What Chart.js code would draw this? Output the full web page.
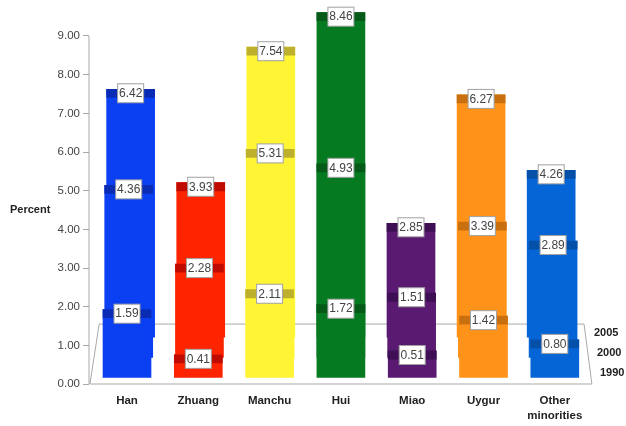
<!DOCTYPE html>
<html>
<head>
<meta charset="utf-8">
<style>
  html, body { margin: 0; padding: 0; background: #fff; }
  canvas { display: block; }
</style>
<script src="https://cdn.jsdelivr.net/npm/chart.js@4"></script>
</head>
<body>
<canvas id="chart" width="626" height="426"></canvas>
<script>
const categories = ['Han', 'Zhuang', 'Manchu', 'Hui', 'Miao', 'Uygur', ['Other', 'minorities']];
const years = ['1990', '2000', '2005'];
const values1990 = [1.59, 0.41, 2.11, 1.72, 0.51, 1.42, 0.80];
const values2000 = [4.36, 2.28, 5.31, 4.93, 1.51, 3.39, 2.89];
const values2005 = [6.42, 3.93, 7.54, 8.46, 2.85, 6.27, 4.26];
const yTicks = [0, 1, 2, 3, 4, 5, 6, 7, 8, 9];

const barColors = ['#0a3ff2', '#ff2400', '#fff534', '#067a20', '#5a1a72', '#ff9218', '#0565d6'];
const bandColors = ['#0a2cb4', '#c00c00', '#bdb02c', '#045a16', '#3e0f55', '#c87010', '#0450a8'];

// fake 3d: rows further back are lifted, a bit smaller and pulled to the middle
const rows = [values1990, values2000, values2005];
const rowLift = [0.35, 0.87, 1.39];
const rowScale = [0.99, 0.979, 0.971];
const rowPull = [0, 0.008, 0.017];
const bandHeight = 0.21;
const baseGap = 0.18;

const rowX = (row, i) => i + (3 - i) * rowPull[row];
const rowTop = (row, v) => v * rowScale[row] + rowLift[row];

const datasets = [];
rows.forEach((vals, row) => {
  datasets.push({
    type: 'bar',
    values: vals,
    backgroundColor: bandColors,
    data: vals.map((v, i) => ({ x: rowX(row, i), y: [rowTop(row, v) - bandHeight, rowTop(row, v)] }))
  });
  datasets.push({
    type: 'bar',
    backgroundColor: barColors,
    data: vals.map((v, i) => ({ x: rowX(row, i), y: [rowLift[row] - baseGap, rowTop(row, v)] }))
  });
});

// floor outline and value axis line, behind everything else
datasets.push({
  type: 'line',
  borderColor: '#a8a8a8',
  borderWidth: 1,
  pointRadius: 0,
  tension: 0,
  clip: false,
  data: [{ x: -0.52, y: 0 }, { x: -0.39, y: 1.55 }, { x: 6.41, y: 1.55 }, { x: 6.52, y: 0 }, { x: -0.52, y: 0 }]
});
datasets.push({
  type: 'line',
  borderColor: '#a8a8a8',
  borderWidth: 1,
  pointRadius: 0,
  clip: false,
  data: [{ x: -0.533, y: 0 }, { x: -0.533, y: 9 }]
});

const extras = {
  id: 'extras',
  afterDatasetsDraw(chart) {
    const ctx = chart.ctx;
    const y = chart.scales.y;
    ctx.save();

    // value boxes
    ctx.font = '12px "Liberation Sans"';
    ctx.textAlign = 'center';
    ctx.textBaseline = 'middle';
    chart.data.datasets.forEach((ds, d) => {
      if (!ds.values) return;
      chart.getDatasetMeta(d).data.forEach((el, i) => {
        const cy = (el.y + el.base) / 2;
        ctx.fillStyle = '#fff';
        ctx.strokeStyle = '#a0a0a0';
        ctx.lineWidth = 1;
        ctx.fillRect(el.x - 13, cy - 9.5, 26, 19);
        ctx.strokeRect(el.x - 13, cy - 9.5, 26, 19);
        ctx.fillStyle = '#444';
        ctx.fillText(ds.values[i].toFixed(2), el.x, cy + 0.5);
      });
    });

    // depth labels on the right, front row is furthest right
    ctx.font = 'bold 11px "Liberation Sans"';
    ctx.fillStyle = '#222';
    ctx.textAlign = 'left';
    years.forEach((yr, row) => {
      ctx.fillText(yr, 600 - row * 3, y.getPixelForValue(rowLift[row] - baseGap) - 4);
    });

    ctx.fillText('Percent', 10, 210);
    ctx.restore();
  }
};

new Chart(document.getElementById('chart'), {
  data: { datasets },
  plugins: [extras],
  options: {
    responsive: false,
    animation: false,
    layout: { padding: { top: 7, right: 22, left: 0, bottom: 0 } },
    datasets: { bar: { barThickness: 48, grouped: false } },
    plugins: { legend: { display: false }, tooltip: { enabled: false } },
    scales: {
      x: {
        type: 'linear',
        offset: false,
        min: -0.533,
        max: 6.69,
        afterBuildTicks: axis => { axis.ticks = categories.map((_, i) => ({ value: i })); },
        afterFit: axis => { axis.height = 42; axis.paddingLeft = 0; axis.paddingRight = 0; },
        grid: { display: false, offset: false },
        border: { display: false },
        ticks: {
          autoSkip: false,
          maxRotation: 0,
          padding: 2,
          color: '#222',
          font: { family: '"Liberation Sans"', size: 11.5, weight: 'bold', lineHeight: 1.25 },
          callback: v => categories[v]
        }
      },
      y: {
        min: 0,
        max: 9.75,
        afterBuildTicks: axis => { axis.ticks = yTicks.map(v => ({ value: v })); },
        afterFit: axis => { axis.width = 89; axis.paddingTop = 0; },
        grid: { drawOnChartArea: false, tickLength: 6, color: '#a8a8a8' },
        border: { display: false },
        ticks: {
          padding: 3,
          color: '#444',
          font: { family: '"Liberation Sans"', size: 11.5 },
          callback: v => v.toFixed(2)
        }
      }
    }
  }
});
</script>
</body>
</html>
